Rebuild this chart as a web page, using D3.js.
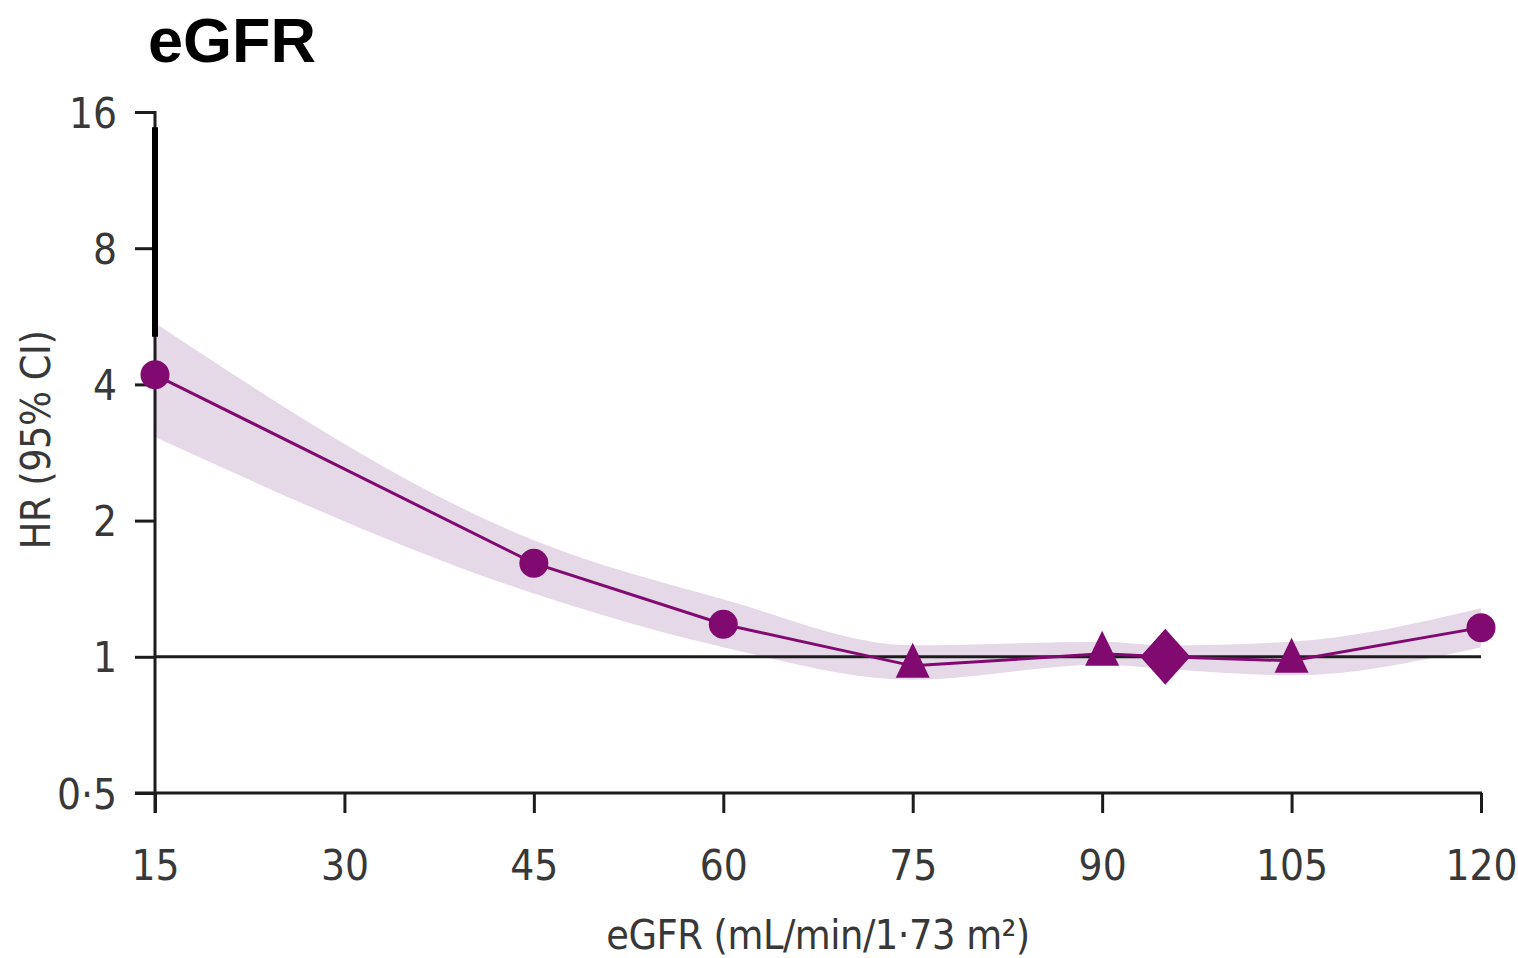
<!DOCTYPE html>
<html>
<head>
<meta charset="utf-8">
<script src="https://cdn.jsdelivr.net/npm/d3@7"></script>
<style>
  html, body { margin: 0; padding: 0; background: #fff; }
  svg { display: block; }
  .lbl { font-family: "Liberation Sans Narrow", "DejaVu Sans Condensed", "Arial Narrow", sans-serif; fill: #383838; }
</style>
</head>
<body>
<script>
// ---- data ----
const egfr      = [15, 45, 60, 75, 90, 95, 105, 120];
const hr        = [4.2, 1.61, 1.18, 0.955, 1.015, 1.0, 0.98, 1.16];
const ciLower   = [3.06, 1.38, 1.05, 0.89, 0.96, 0.94, 0.91, 1.05];
const ciUpper   = [5.47, 1.81, 1.34, 1.06, 1.08, 1.06, 1.08, 1.28];
const markers   = ["circle", "circle", "circle", "triangle", "triangle", "diamond", "triangle", "circle"];
const spikeX    = [15];
const spikeLow  = [5.1];
const spikeHigh = [14.8];
const xTicks    = [15, 30, 45, 60, 75, 90, 105, 120];
const yTicks    = [0.5, 1, 2, 4, 8, 16];
const yTickLabels = ["0·5", "1", "2", "4", "8", "16"];
const refHR     = 1;

const W = 1518, H = 958;
const svg = d3.select("body").append("svg").attr("width", W).attr("height", H);

const x = d3.scaleLinear().domain([15, 120]).range([155, 1481]);
const y = d3.scaleLog().base(2).domain([0.5, 16]).range([793, 112]);

const purple = "#800a70";
const band = "#e5d9e8";
const axisCol = "#1c1c1c";
const fs = 42;
const fsTitle = 41;

// title
svg.append("text").attr("x", 148).attr("y", 62)
  .attr("font-family", "'Liberation Sans', Arial, sans-serif")
  .attr("font-weight", "bold").attr("font-size", 63).attr("fill", "#000")
  .text("eGFR");

const rows = egfr.map((e, i) => ({x: e, hr: hr[i], lo: ciLower[i], hi: ciUpper[i], m: markers[i]}));

// CI band
svg.append("path").datum(rows)
  .attr("fill", band)
  .attr("d", d3.area().x(d => x(d.x)).y0(d => y(d.lo)).y1(d => y(d.hi)).curve(d3.curveMonotoneX));

// Y axis
const yAxis = d3.axisLeft(y).tickValues(yTicks).tickFormat((d, i) => yTickLabels[i]).tickSize(20).tickSizeOuter(0);
const gy = svg.append("g").attr("transform", `translate(${x(15)},0)`).call(yAxis);
gy.select(".domain").remove();
gy.selectAll(".tick line").attr("stroke", axisCol).attr("stroke-width", 3);
gy.selectAll(".tick text").attr("class", "lbl").attr("font-size", fs).attr("x", -38).attr("dy", "0.36em").attr("fill", "#383838");
gy.append("line").attr("x1", 0).attr("x2", 0).attr("y1", y(16) - 1).attr("y2", 813)
  .attr("stroke", axisCol).attr("stroke-width", 3);

// X axis
const xAxis = d3.axisBottom(x).tickValues(xTicks).tickFormat(d3.format("d")).tickSize(20).tickSizeOuter(0);
const gx = svg.append("g").attr("transform", `translate(0,${y(0.5)})`).call(xAxis);
gx.select(".domain").remove();
gx.append("line").attr("x1", 135).attr("x2", x(120) + 1).attr("y1", 0).attr("y2", 0)
  .attr("stroke", axisCol).attr("stroke-width", 3);
gx.selectAll(".tick line").attr("stroke", axisCol).attr("stroke-width", 3);
gx.selectAll(".tick text").attr("class", "lbl").attr("font-size", fs).attr("y", 72).attr("dy", "0.36em").attr("fill", "#383838");

// spike (upper CI extension at first point)
svg.selectAll("line.spike").data(spikeX).join("line").attr("class", "spike")
  .attr("x1", d => x(d)).attr("x2", d => x(d))
  .attr("y1", (d, i) => y(spikeLow[i])).attr("y2", (d, i) => y(spikeHigh[i]))
  .attr("stroke", "#000").attr("stroke-width", 6);

// reference line
svg.append("line").attr("x1", x(15)).attr("x2", x(120)).attr("y1", y(refHR)).attr("y2", y(refHR))
  .attr("stroke", axisCol).attr("stroke-width", 3);

// HR line
svg.append("path").datum(rows).attr("fill", "none").attr("stroke", purple).attr("stroke-width", 3)
  .attr("d", d3.line().x(d => x(d.x)).y(d => y(d.hr)));

// markers
const g = svg.append("g").attr("fill", purple);
rows.forEach(d => {
  const cx = x(d.x), cy = y(d.hr);
  if (d.m === "circle") {
    g.append("circle").attr("cx", cx).attr("cy", cy).attr("r", 14.5);
  } else if (d.m === "triangle") {
    g.append("path").attr("transform", `translate(${cx},${cy})`)
      .attr("d", "M0,-23 L17,12 L-17,12 Z");
  } else {
    g.append("path").attr("transform", `translate(${cx},${cy})`)
      .attr("d", "M0,-28 L25,0 L0,28 L-25,0 Z");
  }
});

// axis titles
svg.append("text").attr("class", "lbl").attr("font-size", fsTitle).attr("letter-spacing", -0.5)
  .attr("x", 818).attr("y", 949).attr("text-anchor", "middle")
  .text("eGFR (mL/min/1·73 m²)");
svg.append("text").attr("class", "lbl").attr("font-size", fsTitle).attr("letter-spacing", -0.5)
  .attr("transform", "translate(35,440) rotate(-90)").attr("text-anchor", "middle").attr("dy", "0.36em")
  .text("HR (95% CI)");
</script>
</body>
</html>
